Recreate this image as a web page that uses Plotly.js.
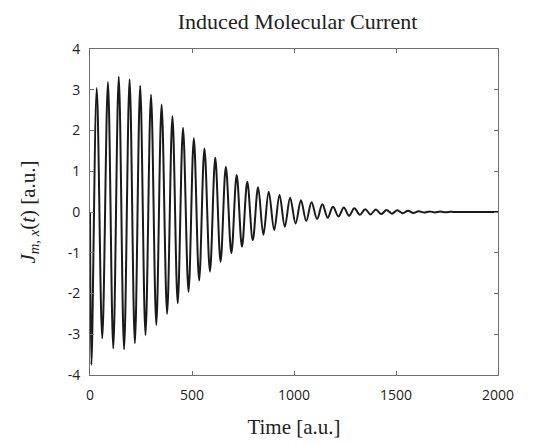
<!DOCTYPE html>
<html>
<head>
<meta charset="utf-8">
<script src="https://cdn.plot.ly/plotly-3.0.1.min.js"></script>
<style>html,body{margin:0;padding:0;background:#fff;}#chart{width:551px;height:444px;}</style>
</head>
<body>
<div id="chart"></div>
<script>
// Extrema of the induced current (time in a.u., current in a.u.)
const timeValues = [0, 7, 33, 60, 88, 114, 141, 167, 194, 220, 246, 272, 299, 325, 351, 378, 404, 430, 456, 483,
  509, 535, 561, 588, 614, 640, 666, 693, 719, 745, 771, 798, 824, 850, 876, 903, 929, 955, 981, 1008,
  1034, 1060, 1086, 1113, 1139, 1165, 1191, 1218, 1244, 1270, 1296, 1323, 1349, 1375, 1401, 1428, 1454, 1480,
  1506, 1533, 1559, 1585, 1611, 1638, 1664, 1690, 1716, 1743, 1769, 1800, 1900, 2000];
const currentValues = [0, -3.75, 3.04, -3.10, 3.19, -3.35, 3.32, -3.37, 3.26, -3.22, 3.10, -3.02, 2.88, -2.77, 2.64, -2.50, 2.35, -2.24, 2.07, -1.96,
  1.81, -1.68, 1.56, -1.46, 1.33, -1.22, 1.11, -1.01, 0.91, -0.85, 0.74, -0.69, 0.61, -0.56, 0.50, -0.44, 0.42, -0.36, 0.35, -0.28,
  0.29, -0.22, 0.24, -0.17, 0.19, -0.14, 0.13, -0.11, 0.11, -0.09, 0.09, -0.07, 0.07, -0.06, 0.06, -0.05, 0.05, -0.04,
  0.04, -0.03, 0.03, -0.025, 0.02, -0.015, 0.015, -0.01, 0.01, -0.005, 0.005, 0, 0, 0];
const xTicks = [0, 500, 1000, 1500, 2000];
const yTicks = [-4, -3, -2, -1, 0, 1, 2, 3, 4];

const trace = {
  x: timeValues, y: currentValues, type: 'scatter', mode: 'lines',
  line: {color: '#1a1a1a', width: 2, shape: 'spline', smoothing: 1.0},
  hoverinfo: 'x+y'
};
const serif = '"Liberation Serif", "Times New Roman", serif';
const axisCommon = {
  showgrid: false, zeroline: false, showline: true, linecolor: '#707070', linewidth: 1,
  mirror: 'ticks', ticks: 'inside', ticklen: 4, tickcolor: '#707070', tickwidth: 1,
  tickfont: {family: '"Open Sans", sans-serif', size: 14, color: '#222'}
};
const layout = {
  width: 551, height: 444,
  margin: {l: 90, r: 53, t: 49, b: 69},
  paper_bgcolor: '#fff', plot_bgcolor: '#fff',
  showlegend: false,
  title: {text: 'Induced Molecular Current', font: {family: serif, size: 22, color: '#222'},
          x: 0.54, xanchor: 'center', y: 0.953, yanchor: 'middle'},
  xaxis: Object.assign({}, axisCommon, {
    range: [0, 2000], tickvals: xTicks, ticktext: xTicks.map(String), ticklabelstandoff: 7,
    title: {text: 'Time [a.u.]', font: {family: serif, size: 21, color: '#222'}, standoff: 16}
  }),
  yaxis: Object.assign({}, axisCommon, {
    range: [-4, 4], tickvals: yTicks, ticktext: yTicks.map(String), ticklabelstandoff: 6,
    title: {text: '<i>J</i><sub><i>m, x</i></sub>(<i>t</i>) [a.u.]', font: {family: serif, size: 21, color: '#222'}, standoff: 26}
  })
};
Plotly.newPlot('chart', [trace], layout, {displayModeBar: false, staticPlot: true});
</script>
</body>
</html>
